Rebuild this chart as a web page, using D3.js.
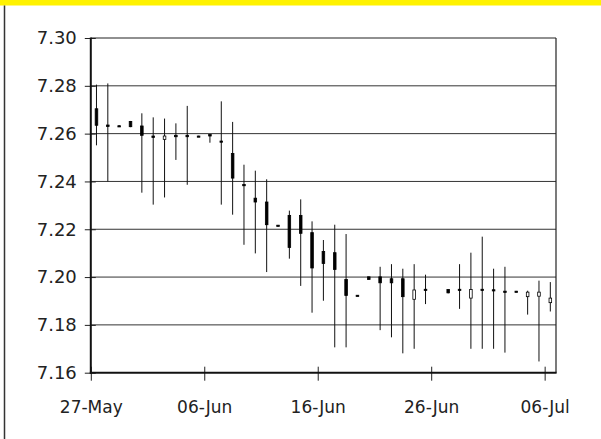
<!DOCTYPE html>
<html><head><meta charset="utf-8">
<script src="https://cdn.jsdelivr.net/npm/d3@7/dist/d3.min.js"></script>
<style>
html,body{margin:0;padding:0;background:#fff;}
svg{display:block;}
text{font-family:"DejaVu Sans",sans-serif;fill:#222;}
</style></head>
<body><svg id="c" width="601" height="439"></svg>
<script>
const dates = ["2024-05-27","2024-05-28","2024-05-29","2024-05-30","2024-05-31","2024-06-01","2024-06-02","2024-06-03","2024-06-04","2024-06-05",
"2024-06-06","2024-06-07","2024-06-08","2024-06-09","2024-06-10","2024-06-11","2024-06-12","2024-06-13","2024-06-14","2024-06-15",
"2024-06-16","2024-06-17","2024-06-18","2024-06-19","2024-06-20","2024-06-21","2024-06-22","2024-06-23","2024-06-24","2024-06-25",
"2024-06-27","2024-06-28","2024-06-29","2024-06-30","2024-07-01","2024-07-02","2024-07-03","2024-07-04","2024-07-05","2024-07-06"];
const open  = [7.2704,7.2636,7.2633,7.2651,7.2632,7.2590,7.2576,7.2593,7.2593,7.2590,
7.2596,7.2569,7.2517,7.2387,7.2330,7.2314,7.2217,7.2258,7.2258,7.2186,
7.2107,7.2102,7.1990,7.1924,7.2001,7.2001,7.1993,7.1993,7.1907,7.1949,
7.1948,7.1949,7.1912,7.1949,7.1947,7.1941,7.1941,7.1918,7.1920,7.1893];
const high  = [7.2805,7.2810,7.2635,7.2653,7.2685,7.2668,7.2663,7.2643,7.2716,7.2591,
7.2597,7.2735,7.2649,7.2470,7.2445,7.2409,7.2218,7.2278,7.2325,7.2233,
7.2155,7.2219,7.2180,7.1925,7.2002,7.2043,7.2054,7.2035,7.2054,7.2010,
7.1949,7.2054,7.2102,7.2169,7.2035,7.2043,7.1942,7.1943,7.1985,7.1979];
const low   = [7.2551,7.2400,7.2628,7.2627,7.2353,7.2303,7.2333,7.2490,7.2386,7.2588,
7.2562,7.2303,7.2261,7.2135,7.2099,7.2021,7.2214,7.2077,7.1963,7.1851,
7.1901,7.1706,7.1706,7.1921,7.1989,7.1778,7.1748,7.1681,7.1700,7.1887,
7.1932,7.1867,7.1700,7.1700,7.1700,7.1684,7.1938,7.1843,7.1647,7.1856];
const close = [7.2635,7.2630,7.2629,7.2629,7.2593,7.2584,7.2590,7.2587,7.2587,7.2589,
7.2590,7.2565,7.2414,7.2383,7.2314,7.2219,7.2215,7.2124,7.2183,7.2038,
7.2057,7.2032,7.1923,7.1921,7.1990,7.1976,7.1976,7.1918,7.1946,7.1946,
7.1934,7.1946,7.1948,7.1946,7.1944,7.1938,7.1939,7.1937,7.1937,7.1912];
const yTicks = [7.16,7.18,7.20,7.22,7.24,7.26,7.28,7.30];
const xTickDates = ["2024-05-27","2024-06-06","2024-06-16","2024-06-26","2024-07-06"];

const svg = d3.select("#c");
const L = 90.8, R = 556, T = 38, B = 372.7;
const parse = d3.utcParse("%Y-%m-%d");
const dayMs = 864e5;
const x = d3.scaleUtc().domain([parse("2024-05-27"), new Date(+parse("2024-07-06") + dayMs)]).range([L, R]);
const y = d3.scaleLinear().domain([7.16, 7.30]).range([B, T]);

// yellow header band
svg.append("rect").attr("x",0).attr("y",0).attr("width",601).attr("height",5.5).attr("fill","#fff200");
// left frame line
svg.append("line").attr("x1",4.5).attr("x2",4.5).attr("y1",5.5).attr("y2",439).attr("stroke","#333").attr("stroke-width",1.5);

// gridlines
svg.append("g").selectAll("line").data(yTicks.filter(v=>v>7.16 && v<7.30)).join("line")
  .attr("x1",L).attr("x2",R).attr("y1",d=>y(d)).attr("y2",d=>y(d))
  .attr("stroke","#333").attr("stroke-width",1);

// frame top/right
svg.append("line").attr("x1",L).attr("x2",R).attr("y1",T).attr("y2",T).attr("stroke","#222").attr("stroke-width",1.2);
svg.append("line").attr("x1",R).attr("x2",R).attr("y1",T).attr("y2",B).attr("stroke","#222").attr("stroke-width",1.2);

// y axis
const yAxis = d3.axisLeft(y).tickValues(yTicks).tickFormat(d3.format(".2f")).tickSize(0).tickPadding(14);
const gy = svg.append("g").attr("transform",`translate(${L},0)`).call(yAxis);
gy.select(".domain").remove();
gy.selectAll("text").attr("font-size","18px").attr("font-family","DejaVu Sans").attr("fill","#222");
gy.selectAll(".tick").append("line").attr("x1",-6).attr("x2",5).attr("stroke","#222").attr("stroke-width",1);

// x axis
const xAxis = d3.axisBottom(x).tickValues(xTickDates.map(parse)).tickFormat(d3.utcFormat("%d-%b")).tickSize(0).tickPadding(28);
const gx = svg.append("g").attr("transform",`translate(0,${B})`).call(xAxis);
gx.select(".domain").remove();
gx.selectAll("text").attr("font-size","17px").attr("font-family","DejaVu Sans").attr("fill","#222");
gx.selectAll(".tick").append("line").attr("y1",-6).attr("y2",8).attr("stroke","#222").attr("stroke-width",1);

// axis lines (thicker)
svg.append("line").attr("x1",L).attr("x2",L).attr("y1",T-0.5).attr("y2",B+1).attr("stroke","#111").attr("stroke-width",2);
svg.append("line").attr("x1",L-1).attr("x2",R+0.6).attr("y1",B).attr("y2",B).attr("stroke","#111").attr("stroke-width",2);

// candles
const data = dates.map((d,i)=>({date:parse(d),o:open[i],h:high[i],l:low[i],c:close[i]}));
const cx = d => x(new Date(+d.date + dayMs/2));
const g = svg.append("g");
g.selectAll("line.hl").data(data).join("line").attr("class","hl")
  .attr("x1",cx).attr("x2",cx).attr("y1",d=>y(d.h)).attr("y2",d=>y(d.l))
  .attr("stroke","#111").attr("stroke-width",1);
g.selectAll("rect.box").data(data).join("rect").attr("class","box")
  .attr("x",d=>cx(d)-1.3).attr("width",2.6)
  .attr("y",d=>y(Math.max(d.o,d.c)))
  .attr("height",d=>Math.max(1.2, Math.abs(y(d.o)-y(d.c))))
  .attr("fill",d=>d.c>d.o ? "#fff" : "#000")
  .attr("stroke","#000").attr("stroke-width",0.8);
</script></body></html>
